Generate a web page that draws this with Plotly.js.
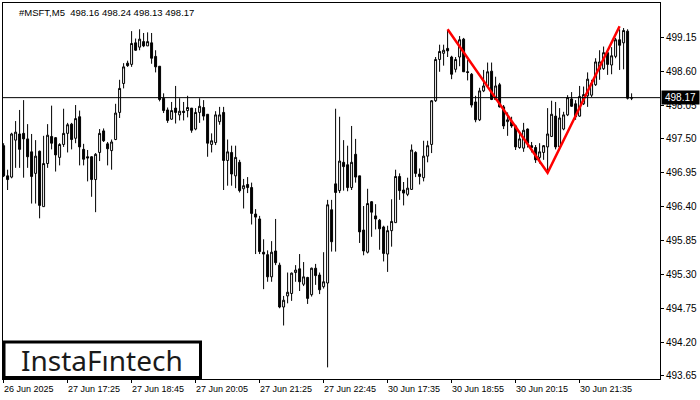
<!DOCTYPE html>
<html>
<head>
<meta charset="utf-8">
<script src="https://cdn.plot.ly/plotly-3.0.1.min.js"></script>
<style>html,body{margin:0;padding:0;background:#fff;}#chart{width:700px;height:400px;}</style>
</head>
<body>
<div id="chart"></div>
<script>
// M5 bars of #MSFT (index 0 = first bar on screen)
const opens = [
497.39,496.90,496.88,497.48,497.58,497.59,497.50,497.29,496.94,497.30,
496.40,497.10,497.54,497.52,497.20,497.41,497.59,497.74,497.51,497.86,
497.33,497.21,497.21,496.84,497.28,497.63,497.42,497.31,497.49,497.93,
498.40,498.73,498.71,499.06,498.99,499.08,499.01,499.06,498.84,498.68,
498.16,497.97,497.82,498.00,497.89,497.95,497.96,498.00,497.66,497.93,
498.01,497.90,497.41,497.44,497.78,497.93,497.15,497.28,496.90,497.12,
496.69,496.76,496.71,496.28,496.20,495.66,495.62,495.26,495.68,495.45,
494.77,494.95,494.99,495.33,495.39,495.14,495.25,494.97,495.40,495.29,
495.10,495.16,496.35,496.77,496.66,497.12,497.08,496.71,497.25,496.90,
496.02,495.66,496.48,496.25,496.18,496.07,495.63,496.01,496.14,496.89,
496.67,496.60,496.68,497.28,496.93,496.87,497.22,497.41,498.12,498.79,
498.89,498.97,498.83,498.63,498.83,499.12,498.59,498.55,498.10,497.81,
498.28,498.36,498.60,498.14,498.38,498.02,497.78,497.78,497.71,497.36,
497.35,497.66,497.39,497.36,497.20,497.28,497.37,497.54,497.87,497.37,
497.66,497.89,498.15,498.07,497.87,498.07,498.20,498.21,498.38,498.63,
498.64,498.90,498.70,498.84,499.11,499.06,499.25,498.16];
const highs = [
497.43,497.00,497.60,497.79,497.97,498.13,497.74,497.58,497.48,497.31,
497.55,497.74,498.04,497.53,497.43,497.99,497.76,497.76,498.05,497.96,
497.42,497.32,497.22,497.27,497.66,497.67,497.45,497.49,498.07,498.46,
498.73,498.77,499.25,499.13,499.28,499.22,499.23,499.22,498.94,498.68,
498.24,498.01,498.10,498.36,498.16,498.10,498.20,498.00,498.00,498.16,
498.13,497.90,497.59,497.95,498.02,498.02,497.49,497.39,497.39,497.16,
496.85,496.88,496.79,496.36,496.25,495.87,495.69,495.84,496.20,495.49,
494.95,495.33,495.33,495.45,495.63,495.50,495.26,495.41,495.47,495.33,
495.66,496.51,496.51,497.99,497.86,497.48,497.39,497.71,497.50,496.90,
496.41,496.69,496.49,496.44,496.20,496.09,496.09,496.52,497.00,496.94,
496.80,496.87,497.41,497.30,497.02,497.47,497.47,498.13,498.83,499.03,
499.03,499.27,498.85,498.83,499.17,499.14,498.78,498.57,498.20,498.33,
498.62,498.74,498.74,498.51,498.41,498.05,497.93,497.86,497.73,497.59,
497.76,497.67,497.45,497.40,497.43,497.40,498.00,498.12,498.10,498.00,
497.94,498.21,498.26,498.13,498.36,498.35,498.58,498.46,498.81,498.94,
499.00,498.91,498.99,499.14,499.28,499.30,499.28,498.24];
const lows = [
496.88,496.67,496.86,497.03,497.03,496.87,497.03,496.45,496.45,496.21,
496.40,497.03,497.33,496.97,497.07,497.37,497.28,497.33,497.43,497.07,
497.07,496.81,496.56,496.31,497.14,497.45,497.07,497.00,497.48,497.84,
498.32,498.67,498.67,498.93,498.94,498.99,499.01,498.72,498.58,498.11,
497.92,497.76,497.81,497.75,497.80,497.80,497.85,497.60,497.64,497.76,
497.80,497.21,497.28,497.40,497.73,496.67,496.74,496.74,496.70,496.63,
496.37,496.62,496.11,495.63,495.63,495.06,495.18,495.18,495.45,494.75,
494.47,494.83,494.87,495.18,495.03,495.11,494.82,494.94,495.13,494.98,
495.07,493.79,495.67,495.67,496.62,496.66,496.65,496.67,496.79,495.81,
495.61,495.64,495.91,496.03,495.70,495.51,495.34,495.75,496.14,496.51,
496.42,496.57,496.67,496.88,496.76,496.81,497.12,497.27,498.10,498.59,
498.69,498.83,498.47,498.58,498.68,498.59,498.45,498.01,497.77,497.79,
498.26,498.33,498.13,498.13,498.01,497.66,497.55,497.68,497.32,497.34,
497.29,497.36,497.28,497.11,497.10,497.16,496.95,497.53,497.33,497.37,
497.64,497.87,498.02,497.81,497.86,498.05,498.02,498.18,498.36,498.46,
498.62,498.54,498.55,498.81,498.62,498.63,498.14,498.13];
const closes = [
496.90,496.84,497.58,497.61,497.33,497.50,497.21,496.89,497.22,496.42,
497.10,497.56,497.43,497.24,497.41,497.59,497.73,497.49,497.83,497.37,
497.17,497.19,496.84,497.25,497.59,497.47,497.34,497.45,497.92,498.32,
498.67,498.69,499.05,498.94,499.12,499.01,499.08,498.81,498.67,498.14,
497.96,497.80,497.96,497.93,497.95,497.93,498.01,497.64,497.93,498.03,
497.87,497.43,497.47,497.89,497.89,497.15,497.29,496.93,497.20,496.66,
496.74,496.71,496.29,496.23,495.67,495.63,495.26,495.66,495.49,494.77,
494.88,495.01,495.32,495.37,495.18,495.26,494.91,495.40,495.28,495.05,
495.18,496.43,495.83,496.63,497.14,497.05,496.71,497.12,496.88,495.99,
495.68,496.45,496.31,496.20,496.04,495.64,496.01,496.16,496.89,496.66,
496.62,496.70,497.32,496.94,496.89,497.22,497.39,498.12,498.79,498.92,
498.94,498.93,498.55,498.79,499.11,498.59,498.58,498.05,497.81,498.28,
498.36,498.59,498.14,498.36,498.02,497.71,497.81,497.71,497.37,497.50,
497.64,497.43,497.36,497.16,497.29,497.39,497.58,497.90,497.37,497.84,
497.89,498.17,498.03,497.86,498.19,498.22,498.47,498.40,498.75,498.75,
498.90,498.71,498.85,499.11,499.02,499.26,498.16,498.17];

const timeTickIdx = [0,16,32,48,64,80,96,112,128,144];
const timeTickLabels = ["26 Jun 2025","27 Jun 17:25","27 Jun 18:45","27 Jun 20:05","27 Jun 21:25",
  "27 Jun 22:45","30 Jun 17:35","30 Jun 18:55","30 Jun 20:15","30 Jun 21:35"];
const priceTicks = [493.65,494.20,494.75,495.30,495.85,496.40,496.95,497.50,498.05,498.60,499.15];
const priceTickLabels = priceTicks.map(v => v.toFixed(2));

// red pattern line: bar index / price
const patternIdx = [111, 136, 154];
const patternPrice = [499.28, 496.95, 499.33];

const symbol = "#MSFT,M5";
const lastPrice = 498.17;

const idx = opens.map((_, i) => i);

const traces = [
  {
    type: 'candlestick', x: idx, open: opens, high: highs, low: lows, close: closes,
    increasing: {line: {color: '#000', width: 1}, fillcolor: '#ffffff'},
    decreasing: {line: {color: '#000', width: 1}, fillcolor: '#000000'},
    whiskerwidth: 0, hoverinfo: 'skip', showlegend: false
  },
  {
    type: 'scatter', mode: 'lines', x: patternIdx, y: patternPrice,
    line: {color: '#ff0000', width: 2.5}, hoverinfo: 'skip', showlegend: false
  }
];

const L = 3, R = 40, T = 3, B = 21, W = 700, H = 400;
const pw = W - L - R, ph = H - T - B;
const px = x => (x - L) / pw;
const py = y => (H - B - y) / ph;

const annotations = [];
annotations.push({
  text: symbol + '\u00a0\u00a0' + [opens[157], highs[157], lows[157], closes[157]].map(v => v.toFixed(2)).join(' '),
  xref: 'paper', yref: 'paper', x: px(17), y: 1, xanchor: 'left', yanchor: 'top', yshift: -2,
  showarrow: false, font: {family: 'Liberation Sans', size: 9.5, color: '#000'}
});
timeTickIdx.forEach((t, i) => annotations.push({
  text: timeTickLabels[i], xref: 'x', yref: 'paper', x: t, y: 0, xanchor: 'left', yanchor: 'top',
  yshift: -3, xshift: -2, showarrow: false, font: {family: 'Liberation Sans', size: 9, color: '#000'}
}));
annotations.push({
  text: lastPrice.toFixed(2), xref: 'paper', yref: 'y', x: 1, y: lastPrice, xanchor: 'left', yanchor: 'middle',
  xshift: 1, showarrow: false, bgcolor: '#000', borderpad: 1, width: 35, height: 11,
  font: {family: 'Liberation Sans', size: 10, color: '#fff'}
});
annotations.push({
  text: 'InstaF\u0131ntech', xref: 'paper', yref: 'paper', x: px(102), y: py(360),
  xanchor: 'center', yanchor: 'middle', showarrow: false,
  font: {family: 'Noto Sans', size: 28, color: '#1a1a1a'}
});

const layout = {
  width: W, height: H,
  margin: {l: L, r: R, t: T, b: B, pad: 0},
  paper_bgcolor: '#fff', plot_bgcolor: '#fff',
  showlegend: false,
  xaxis: {
    range: [-0.15, 164.1], showgrid: false, zeroline: false,
    showline: true, mirror: true, linecolor: '#000', linewidth: 1,
    tickmode: 'array', tickvals: timeTickIdx, ticks: 'outside', ticklen: 3, tickcolor: '#000',
    showticklabels: false, rangeslider: {visible: false}, fixedrange: true
  },
  yaxis: {
    side: 'right', range: [493.601, 499.707], showgrid: false, zeroline: false,
    showline: true, mirror: true, linecolor: '#000', linewidth: 1,
    tickmode: 'array', tickvals: priceTicks, ticktext: priceTickLabels,
    ticks: 'outside', ticklen: 3, tickcolor: '#000',
    tickfont: {family: 'Liberation Sans', size: 10, color: '#000'}, fixedrange: true
  },
  shapes: [
    {type: 'line', xref: 'paper', yref: 'y', x0: 0, x1: 1, y0: lastPrice, y1: lastPrice,
     line: {color: '#000', width: 1}},
    {type: 'rect', xref: 'paper', yref: 'paper', x0: px(4), x1: px(200.5), y0: py(377.5), y1: py(342),
     line: {color: '#000', width: 3}, fillcolor: '#fff', layer: 'above'}
  ],
  annotations: annotations
};

Plotly.newPlot('chart', traces, layout, {staticPlot: true, displayModeBar: false});
</script>
</body>
</html>
